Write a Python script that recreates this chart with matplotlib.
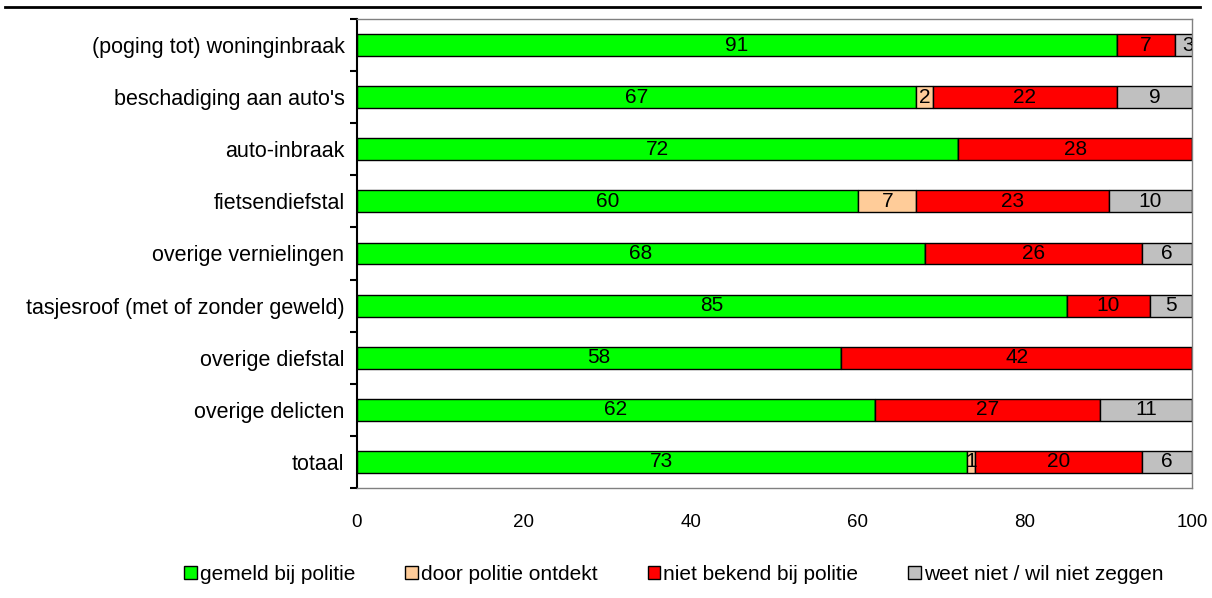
import numpy as np
import matplotlib
matplotlib.use("Agg")
import matplotlib.pyplot as plt
from matplotlib.lines import Line2D

plt.rcParams['font.family'] = ['Liberation Sans', 'DejaVu Sans']

categories = ["(poging tot) woninginbraak", "beschadiging aan auto's", "auto-inbraak",
              "fietsendiefstal", "overige vernielingen", "tasjesroof (met of zonder geweld)",
              "overige diefstal", "overige delicten", "totaal"]
series_names = ["gemeld bij politie", "door politie ontdekt", "niet bekend bij politie",
                "weet niet / wil niet zeggen"]
gemeld = [91, 67, 72, 60, 68, 85, 58, 62, 73]
ontdekt = [0, 2, 0, 7, 0, 0, 0, 0, 1]
niet_bekend = [7, 22, 28, 23, 26, 10, 42, 27, 20]
weet_niet = [3, 9, 0, 10, 6, 5, 0, 11, 6]
xticks = [0, 20, 40, 60, 80, 100]

colors = ["#00FF00", "#FFCC99", "#FF0000", "#C0C0C0"]

fig = plt.figure(figsize=(12.12, 5.98), dpi=100)
ax = fig.add_axes([357/1212, 1-488/598, (1192-357)/1212, (488-19)/598])

y = np.arange(len(categories))
left = np.zeros(len(categories))
for name, vals, col in zip(series_names, [gemeld, ontdekt, niet_bekend, weet_niet], colors):
    vals = np.array(vals, dtype=float)
    ax.barh(y, vals, left=left, height=0.42, color=col, edgecolor="black",
            linewidth=1, label=name)
    for yi, l, v in zip(y, left, vals):
        if v > 0:
            ax.text(l + v/2, yi, str(int(v)), ha="center", va="center",
                    fontsize=15, clip_on=True)
    left += vals

ax.set_xlim(0, 100)
ax.set_ylim(len(categories) - 0.5, -0.5)
ax.set_yticks(y)
ax.set_yticklabels(categories, fontsize=15.5)
ax.set_yticks(np.arange(-0.5, len(categories)), minor=True)
ax.tick_params(axis="y", which="major", length=0, pad=9)
ax.tick_params(axis="y", which="minor", length=5, width=1.5, color="black", direction="out")
ax.set_xticks(xticks)
ax.set_xticklabels([str(t) for t in xticks], fontsize=13.5)
ax.tick_params(axis="x", length=0, pad=19)

for s in ["top", "right", "bottom"]:
    ax.spines[s].set_color("#808080")
    ax.spines[s].set_linewidth(1)
ax.spines["left"].set_color("black")
ax.spines["left"].set_linewidth(1.5)

leg = fig.legend(loc="center", bbox_to_anchor=(0.556, 1-574/598), ncol=4, frameon=False,
                 fontsize=15, handlelength=0.6, handleheight=0.6, handletextpad=0.15,
                 columnspacing=2.4)

fig.add_artist(Line2D([5/1212, 1200/1212], [1-7/598, 1-7/598], color="black", linewidth=2))

fig.savefig("out.png", dpi=100)
